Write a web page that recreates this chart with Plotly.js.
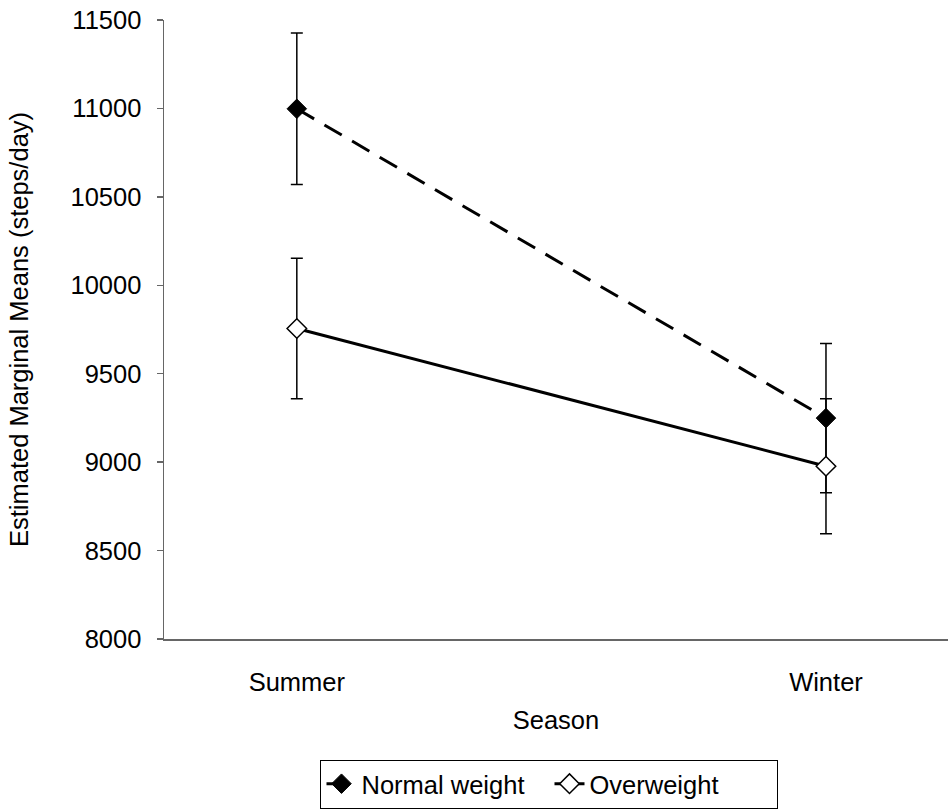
<!DOCTYPE html>
<html>
<head>
<meta charset="utf-8">
<script src="https://cdn.plot.ly/plotly-3.0.1.min.js"></script>
<style>html,body{margin:0;padding:0;background:#fff;}#chart{width:948px;height:810px;}</style>
</head>
<body>
<div id="chart"></div>
<script>
const seasons = ["Summer", "Winter"];
const normalMeans = [10998, 9249];
const normalErr = [428, 422];
const overMeans = [9756, 8977];
const overErr = [397, 382];
const yTicks = [8000, 8500, 9000, 9500, 10000, 10500, 11000, 11500];
const yTickText = ["8000", "8500", "9000", "9500", "10000", "10500", "11000", "11500"];
const xPos = [0, 1];

const FONT = "Liberation Sans, Arial, sans-serif";
const FS = 25.5;

const traces = [
  {
    x: xPos, y: normalMeans, name: "Normal weight", type: "scatter", mode: "lines+markers",
    line: {color: "#000", width: 3, dash: "20px,12px"},
    marker: {symbol: "diamond", size: 15, color: "#000", line: {color: "#000", width: 1}},
    error_y: {type: "data", array: normalErr, visible: true, color: "#000", thickness: 1.5, width: 6}
  },
  {
    x: xPos, y: overMeans, name: "Overweight", type: "scatter", mode: "lines+markers",
    line: {color: "#000", width: 3},
    marker: {symbol: "diamond", size: 15, color: "#fff", line: {color: "#000", width: 1.5}},
    error_y: {type: "data", array: overErr, visible: true, color: "#000", thickness: 1.5, width: 6}
  }
];

const layout = {
  width: 948, height: 810,
  margin: {l: 164, r: 0, t: 20, b: 171, autoexpand: false},
  paper_bgcolor: "#fff", plot_bgcolor: "#fff",
  font: {family: FONT, size: FS, color: "#000"},
  showlegend: true,
  legend: {
    orientation: "h", x: 0.4917, xanchor: "center", y: -0.274, yanchor: "bottom",
    bordercolor: "#000", borderwidth: 1, bgcolor: "#fff", entrywidth: 183,
    font: {family: FONT, size: FS, color: "#000"}
  },
  xaxis: {
    range: [-0.251, 1.2306], tickvals: xPos, ticktext: seasons, automargin: false,
    showgrid: false, zeroline: false, showline: true, linecolor: "#666", linewidth: 1.5,
    ticks: "", ticklabelstandoff: 20,
    title: {text: "Season", standoff: 16, font: {family: FONT, size: FS}}
  },
  yaxis: {
    range: [8000, 11500], tickvals: yTicks, ticktext: yTickText, automargin: false,
    showgrid: false, zeroline: false, showline: true, linecolor: "#666", linewidth: 1.5,
    ticks: "outside", ticklen: 6, tickcolor: "#666", tickwidth: 1.5, ticklabelstandoff: 10,
    title: {text: "Estimated Marginal Means (steps/day)", standoff: 34, font: {family: FONT, size: FS}}
  }
};

Plotly.newPlot("chart", traces, layout, {displayModeBar: false, staticPlot: true});
</script>
</body>
</html>
